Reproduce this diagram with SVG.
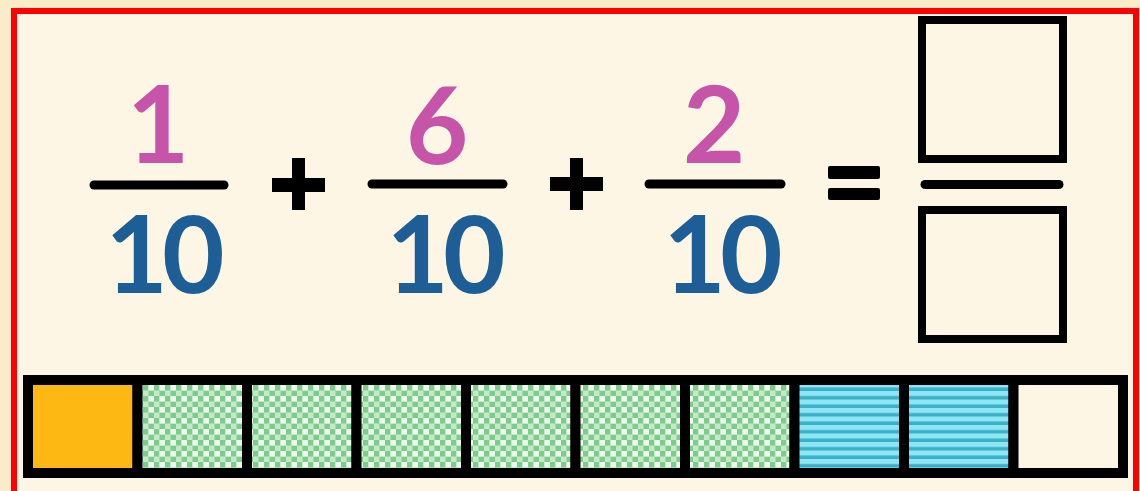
<svg xmlns="http://www.w3.org/2000/svg" width="1140" height="491" viewBox="0 0 1140 491">
  <style>
    .num { font-family: Lato, "Liberation Sans", sans-serif; font-weight: bold; font-size: 108px; fill: #C655A9; text-anchor: middle; }
    .den { font-family: Lato, "Liberation Sans", sans-serif; font-weight: bold; font-size: 108px; fill: #1E5E97; text-anchor: middle; letter-spacing: -6px; }
    .fbar { stroke: #000; stroke-width: 9; stroke-linecap: round; }
    .op { fill: #000; }
    .box { fill: none; stroke: #000; stroke-width: 8; }
    .cell { stroke: #000; stroke-width: 10; }
  </style>
  <defs>
    <pattern id="checker" width="11" height="11" patternUnits="userSpaceOnUse">
      <rect width="11" height="11" fill="#C2EBC5"/>
      <rect x="0" y="0" width="5.5" height="5.5" fill="#7FCB8D"/>
      <rect x="5.5" y="5.5" width="5.5" height="5.5" fill="#7FCB8D"/>
      <rect x="5.5" y="0" width="5.5" height="5.5" fill="#ECFAEE"/>
    </pattern>
    <pattern id="stripes" width="8" height="8.5" patternUnits="userSpaceOnUse">
      <rect width="8" height="8.5" fill="#8EE6F4"/>
      <rect y="5" width="8" height="3.5" fill="#3BB0C6"/>
    </pattern>
  </defs>

  <rect x="0" y="0" width="1140" height="491" fill="#FCEBC8"/>
  <rect x="14" y="11" width="1122" height="500" fill="#FEF6E4" stroke="#FF0000" stroke-width="6"/>

  <g id="fraction1">
    <text class="num" x="158" y="163">1</text>
    <line class="fbar" x1="94" y1="185" x2="224" y2="185"/>
    <text class="den" x="162" y="293">10</text>
  </g>

  <g id="plus1">
    <rect class="op" x="272" y="178" width="53" height="14"/>
    <rect class="op" x="292" y="158" width="13" height="52"/>
  </g>

  <g id="fraction2">
    <text class="num" x="437" y="164">6</text>
    <line class="fbar" x1="372" y1="184" x2="503" y2="184"/>
    <text class="den" x="443" y="293">10</text>
  </g>

  <g id="plus2">
    <rect class="op" x="550" y="177" width="53" height="14"/>
    <rect class="op" x="570" y="158" width="13" height="52"/>
  </g>

  <g id="fraction3">
    <text class="num" x="714" y="163">2</text>
    <line class="fbar" x1="649" y1="184" x2="781" y2="184"/>
    <text class="den" x="720" y="293">10</text>
  </g>

  <g id="equals">
    <rect class="op" x="828" y="166" width="52" height="13" rx="2"/>
    <rect class="op" x="828" y="188" width="52" height="12" rx="2"/>
  </g>

  <g id="answer">
    <rect class="box" x="922" y="20" width="141" height="139"/>
    <line class="fbar" x1="925" y1="184.5" x2="1059" y2="184.5" stroke-width="8"/>
    <rect class="box" x="922" y="210" width="141" height="129"/>
  </g>

  <g id="bar">
    <rect class="cell" x="28" y="380" width="109.5" height="93" fill="#FDB813"/>
    <rect class="cell" x="137.5" y="380" width="109.5" height="93" fill="url(#checker)"/>
    <rect class="cell" x="247" y="380" width="109.5" height="93" fill="url(#checker)"/>
    <rect class="cell" x="356.5" y="380" width="109.5" height="93" fill="url(#checker)"/>
    <rect class="cell" x="466" y="380" width="109.5" height="93" fill="url(#checker)"/>
    <rect class="cell" x="575.5" y="380" width="109.5" height="93" fill="url(#checker)"/>
    <rect class="cell" x="685" y="380" width="109.5" height="93" fill="url(#checker)"/>
    <rect class="cell" x="794.5" y="380" width="109.5" height="93" fill="url(#stripes)"/>
    <rect class="cell" x="904" y="380" width="109.5" height="93" fill="url(#stripes)"/>
    <rect class="cell" x="1013.5" y="380" width="109.5" height="93" fill="#FEF6E4"/>
  </g>
</svg>
